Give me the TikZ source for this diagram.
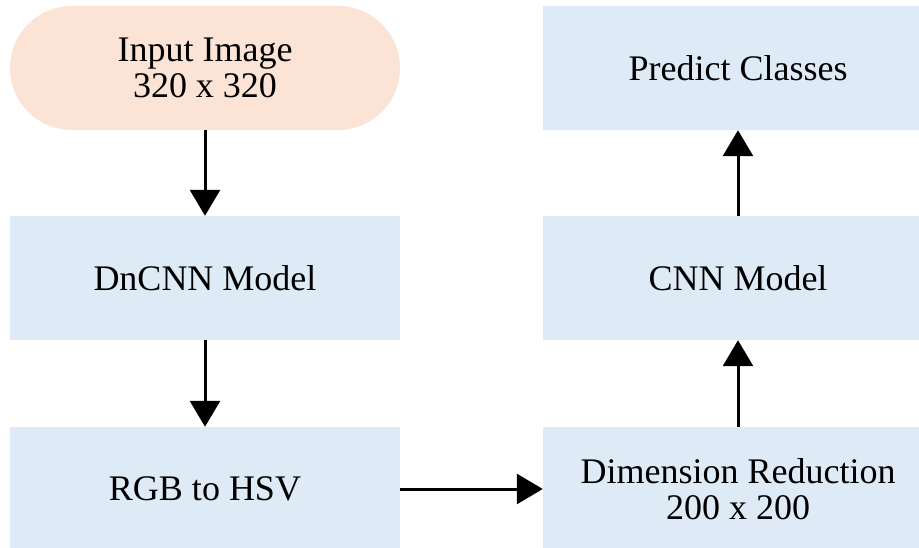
\documentclass[tikz,border=0pt]{standalone}
\usepackage{fontspec}
\setmainfont{Liberation Serif}
\usetikzlibrary{arrows.meta}
\definecolor{boxblue}{HTML}{DEEAF6}
\definecolor{peach}{HTML}{FBE3D6}
\begin{document}
\begin{tikzpicture}[x=1pt,y=-1pt,
  box/.style={fill=boxblue, minimum width=390pt, minimum height=124pt, inner sep=0pt, align=center, font=\fontsize{36}{36}\selectfont},
  arr/.style={line width=3pt, -{Triangle[width=30pt,length=26pt]}}]
\clip (0,0) rectangle (919,548);
\node[box, fill=peach, rounded corners=62pt] (in) at (205,68) {Input Image\\320 x 320};
\node[box] (dn) at (205,278) {DnCNN Model};
\node[box] (rgb) at (205,489) {RGB to HSV};
\node[box] (pc) at (738,68) {Predict Classes};
\node[box] (cnn) at (738,278) {CNN Model};
\node[box] (dr) at (738,489) {Dimension Reduction\\200 x 200};
\draw[arr] (in) -- (dn);
\draw[arr] (dn) -- (rgb);
\draw[arr] (rgb) -- (dr);
\draw[arr] (dr) -- (cnn);
\draw[arr] (cnn) -- (pc);
\end{tikzpicture}
\end{document}
